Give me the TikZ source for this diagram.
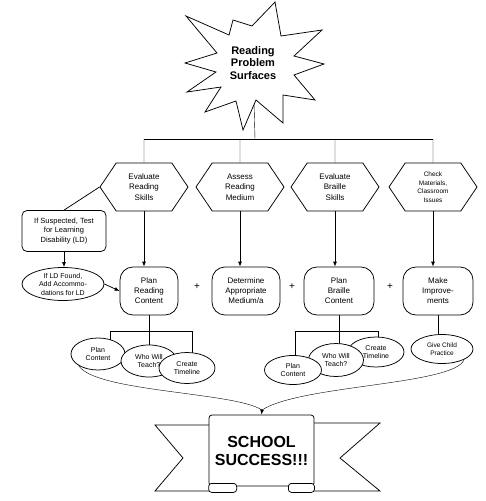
\documentclass[tikz,border=0pt]{standalone}
\usepackage{fontspec}
\setmainfont{Liberation Sans}
\usetikzlibrary{calc,shapes,arrows.meta,backgrounds,positioning}

\begin{document}
\begin{tikzpicture}[x=1pt, y=-1pt, line width=0.75pt,
	every node/.style = {align=center, inner sep=1pt},
	hexa/.style = {draw, fill=white, signal, signal to=east and west, signal pointer angle=112,
		minimum width=88pt, minimum height=48pt, font=\fontsize{8}{10.5}\selectfont},
	plan/.style = {draw, fill=white, rectangle, rounded corners=13pt, minimum height=48pt,
		font=\fontsize{8}{10}\selectfont},
	oval/.style = {draw, fill=white, ellipse, inner sep=0pt, font=\fontsize{7}{8.5}\selectfont},
	arr/.style = {-{Latex[length=5pt,width=4pt]}}]

	\useasboundingbox (0,0) rectangle (486,501);

	% the starburst
	\draw[fill=white] (275,2) -- (281,36) -- (322,30) -- (294,56) -- (324,64) -- (294,75)
		-- (315,100) -- (283,95) -- (283,123) -- (256,100) -- (243,130) -- (236,101)
		-- (205,112) -- (221,87) -- (187,92) -- (216,72) -- (185,63) -- (217,53)
		-- (186,16) -- (229,35) -- (233,20) -- (252,26) -- cycle;
	\node[font=\bfseries\fontsize{11}{12.5}\selectfont] (rps) at (253,63) {Reading\\Problem\\Surfaces};
	\coordinate (bar) at (255,139);

	\node[hexa] (ers) at (144,187) {Evaluate\\Reading\\Skills};
	\node[hexa] (arm) at (240,187) {Assess\\Reading\\Medium};
	\node[hexa] (ebs) at (335,187) {Evaluate\\Braille\\Skills};
	\node[hexa, font=\fontsize{6.5}{8.5}\selectfont] (cmi) at (433,187) {Check\\Materials,\\Classroom\\Issues};

	\node[plan, minimum width=58pt] (prc) at (149,291) {Plan\\Reading\\Content};
	\node[plan, minimum width=68pt] (dam) at (246,291) {Determine\\Appropriate\\Medium/a};
	\node[plan, minimum width=70pt] (pbc) at (339,291) {Plan\\Braille\\Content};
	\node[plan, minimum width=70pt] (mki) at (438,291) {Make\\Improve-\\ments};

	\node[font=\fontsize{10}{10}\selectfont] (pl1) at (197,287) {+};
	\node[font=\fontsize{10}{10}\selectfont] (pl2) at (292,287) {+};
	\node[font=\fontsize{10}{10}\selectfont] (pl3) at (390,287) {+};

	\node[draw, fill=white, rounded corners=5pt, minimum width=84pt, minimum height=41pt,
		font=\fontsize{7.5}{9.5}\selectfont] (sus) at (64,231) {If Suspected, Test\\for Learning\\Disability (LD)};
	\node[oval, minimum width=82pt, minimum height=33pt] (ldf) at (63,284) {If LD Found,\\Add Accommo-\\dations for LD};

	\node[oval, minimum width=54pt, minimum height=32pt] (lpc) at (98,354) {Plan\\Content};
	\node[oval, minimum width=56pt, minimum height=32pt] (lwt) at (149,361) {Who Will\\Teach?};
	\node[oval, minimum width=56pt, minimum height=31pt] (lct) at (187,368) {Create\\Timeline};

	\node[oval, minimum width=56pt, minimum height=30pt] (rct) at (376,352) {Create\\Timeline};
	\node[oval, minimum width=55pt, minimum height=33pt] (rwt) at (336,360) {Who Will\\Teach?};
	\node[oval, minimum width=57pt, minimum height=29pt] (rpc) at (293,370) {Plan\\Content};

	\node[oval, minimum width=62pt, minimum height=29pt, font=\fontsize{6.5}{8}\selectfont] (gcp) at (442,349) {Give Child\\Practice};

	\coordinate (lbl) at (110,331);
	\coordinate (lbr) at (192,331);
	\coordinate (rbl) at (295,331);
	\coordinate (rbr) at (378,331);
	\coordinate (tip) at (262,410);

	\begin{scope}[on background layer]
		\draw (rps) -- (bar);
		\draw (ers |- bar) -- (cmi |- bar);
		\foreach \s in {ers,arm,ebs,cmi}
			\draw (\s |- bar) -- (\s);
		\draw (lbl) -- (lbr) (prc) -- (prc |- lwt) (lbl) -- (lbl |- lpc) (lbr) -- (lbr |- lct);
		\draw (rbl) -- (rbr) (pbc) -- (pbc |- rwt) (rbl) -- (rbl |- rpc) (rbr) -- (rbr |- rct);
		\draw (mki) -- (mki |- gcp);
		\draw (lpc.south west) .. controls (95,392) and (235,392) .. (tip);
		\draw (gcp.south east) .. controls (455,385) and (300,385) .. (tip);
	\end{scope}

	\foreach \a/\b in {ers/prc,arm/dam,ebs/pbc,cmi/mki}
		\draw[arr] (\a.south) -- (\a.south |- \b.north);
	\draw (ers.west) -- (sus.north);
	\draw[arr] (sus.south) -- (sus.south |- ldf.north);
	\draw[arr] (ldf.east) -- (prc.west);

	% the banner
	\draw[fill=white] (212,425) -- (155,425) -- (183,458) -- (155,491) -- (212,491);
	\draw[fill=white] (311,423) -- (380,423) -- (340,458) -- (380,491) -- (311,491);
	\node[draw, fill=white, rounded corners=3pt, minimum width=105pt, minimum height=71pt,
		font=\bfseries\fontsize{16}{18}\selectfont] (ssc) at (261.5,450.5) {SCHOOL\\SUCCESS!!!};
	\draw[fill=white, rounded corners=3pt] ($(ssc.south west)+(0,-3)$) rectangle ($(ssc.south west)+(28,6)$);
	\draw[fill=white, rounded corners=3pt] ($(ssc.south east)+(-26,-3)$) rectangle ($(ssc.south east)+(0,6)$);
	\draw[arr] (tip) -- (ssc.north);
\end{tikzpicture}
\end{document}
